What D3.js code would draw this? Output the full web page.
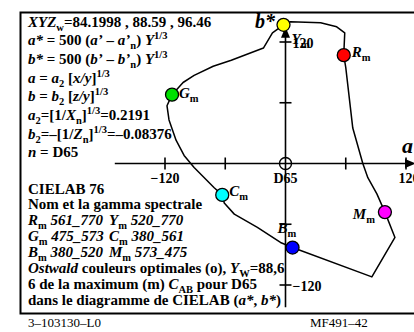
<!DOCTYPE html>
<html>
<head>
<meta charset="utf-8">
<script src="https://cdn.jsdelivr.net/npm/d3@7"></script>
<style>
  body { margin: 0; background: #fff; }
  svg { display: block; }
  text { font-family: "Liberation Serif", "Times New Roman", serif; font-weight: bold; }
  text.plain { font-weight: normal; }
</style>
</head>
<body>
<svg id="chart" width="414" height="332"></svg>
<script>
// *** Data ***

// optimal colour boundary (a*, b*), clockwise from yellow
var boundaryA = [-2, 5, 35, 51, 59, 58, 60, 67, 77, 82, 91, 99, 109, 86, 7, -5, -28, -51, -61, -63, -71, -91, -101, -109, -116, -118, -113, -102, -91, -72, -54, -22, -13, -2];
var boundaryB = [137, 140, 139, 135, 129, 107, 95, 35, 0, -14, -30, -48, -73, -112, -83, -78, -63, -50, -39, -31, -24, -4, 8, 23, 43, 57, 68, 80, 87, 96, 102, 114, 129, 137];

// maximum chroma colours
var pointNames = ["Y", "R", "M", "B", "C", "G"];
var pointA = [-2, 58, 99, 7, -63, -113];
var pointB = [137, 107, -48, -83, -31, 68];

var xTicks = [-120, -60, 0, 60, 120];
var xTickLabels = ["\u2212120", "", "D65", "", "120"];
var yTicks = [-120, -60, 60, 120];
var yTickLabels = ["\u2212120", "", "", "120"];

var spectralNames = ["R", "Y", "G", "C", "B", "M"];
var spectralRanges = ["561_770", "520_770", "475_573", "380_561", "380_520", "573_475"];

// *** Styles ***

var pointFill = {Y: "#ffff00", R: "#ff0000", M: "#ff00ff", B: "#0000ff", C: "#00ffff", G: "#00e000"};
// label offset from the dot centre [dx, dy, anchor]
var labelPlace = {
  Y: [8, 19, "start"], R: [8, 2, "start"], M: [-10, 7, "end"],
  B: [-15, -15, "start"], C: [7, 1, "start"], G: [7, 3, "start"]
};

// *** Helpers ***

// segments: [text, flags] with flags containing i (italic), sub, sup
function rich(textSel, segments, baseSize) {
  var shift = 0;
  segments.forEach(function (s) {
    var flags = s[1] || "";
    var target = 0, size = baseSize;
    if (flags.indexOf("sub") >= 0) { target = 4; size = baseSize * 0.7; }
    if (flags.indexOf("sup") >= 0) { target = -6; size = baseSize * 0.7; }
    var t = textSel.append("tspan")
      .attr("font-size", size)
      .attr("font-style", flags.indexOf("i") >= 0 ? "italic" : "normal")
      .text(s[0]);
    if (target !== shift) t.attr("dy", target - shift);
    shift = target;
  });
}

// *** Chart ***

var svg = d3.select("#chart");

var x = d3.scaleLinear().domain([-120, 120]).range([165, 406]);
var y = d3.scaleLinear().domain([-120, 120]).range([285, 42]);

// frame (right side runs past the picture edge)
svg.append("rect")
  .attr("x", 20.5).attr("y", 12.5).attr("width", 420).attr("height", 301)
  .attr("fill", "none").attr("stroke", "#000").attr("stroke-width", 2);

// axes
var axes = svg.append("g").attr("stroke", "#000").attr("stroke-width", 1.6);
axes.append("line").attr("x1", x(-170)).attr("x2", x(124)).attr("y1", y(0)).attr("y2", y(0));
axes.append("line").attr("x1", x(0)).attr("x2", x(0)).attr("y1", y(-142)).attr("y2", y(130));
svg.append("path")
  .attr("d", "M" + x(130) + "," + y(0) + "l-11,-4.5v9z").attr("fill", "#000");
svg.append("path")
  .attr("d", "M" + x(0) + "," + y(135) + "l-4.5,11h9z").attr("fill", "#000");

axes.selectAll(".xt").data(xTicks.filter(d => d !== 0)).enter().append("line")
  .attr("x1", d => x(d)).attr("x2", d => x(d))
  .attr("y1", y(0) - 6).attr("y2", y(0) + 6);
axes.selectAll(".yt").data(yTicks).enter().append("line")
  .attr("y1", d => y(d)).attr("y2", d => y(d))
  .attr("x1", x(0) - 6).attr("x2", x(0) + 6);

svg.append("circle").attr("cx", x(0)).attr("cy", y(0)).attr("r", 6)
  .attr("fill", "none").attr("stroke", "#000").attr("stroke-width", 1.4);

svg.selectAll(".xl").data(xTicks).enter().append("text")
  .attr("x", d => x(d) + (d === 120 ? 3 : 0)).attr("y", y(0) + 19)
  .attr("text-anchor", "middle").attr("font-size", 14)
  .text((d, i) => xTickLabels[i]);
svg.selectAll(".yl").data(yTicks).enter().append("text")
  .attr("x", x(0) + 7).attr("y", d => y(d) + 6)
  .attr("font-size", 14)
  .text((d, i) => yTickLabels[i]);

// axis names
svg.append("text").attr("x", 402).attr("y", 153).attr("font-size", 22)
  .attr("font-style", "italic").text("a");
svg.append("text").attr("x", 275).attr("y", 28).attr("font-size", 20)
  .attr("text-anchor", "end").attr("font-style", "italic").text("b*");

// boundary of optimal colours
var lineMaker = d3.line()
  .x((d, i) => x(boundaryA[i]))
  .y((d, i) => y(boundaryB[i]));
svg.append("path")
  .attr("d", lineMaker(boundaryA))
  .attr("fill", "none").attr("stroke", "#000").attr("stroke-width", 1.5)
  .attr("stroke-linejoin", "round");

// dots
svg.selectAll(".dot").data(pointNames).enter().append("circle")
  .attr("cx", (d, i) => x(pointA[i])).attr("cy", (d, i) => y(pointB[i]))
  .attr("r", 6.5)
  .attr("fill", d => pointFill[d]).attr("stroke", "#000").attr("stroke-width", 1.3);

pointNames.forEach(function (n, i) {
  var p = labelPlace[n];
  var t = svg.append("text")
    .attr("x", x(pointA[i]) + p[0]).attr("y", y(pointB[i]) + p[1])
    .attr("text-anchor", p[2]);
  rich(t, [[n, "i"], ["m", "sub"]], 15);
});

// *** Text blocks ***

var topLines = [
  [["XYZ", "i"], ["w", "sub"], ["=84.1998 , 88.59 , 96.46"]],
  [["a*", "i"], [" = 500 ("], ["a\u2019", "i"], [" \u2013 "], ["a\u2019", "i"], ["n", "sub"], [") "], ["Y", "i"], ["1/3", "sup"]],
  [["b*", "i"], [" = 500 ("], ["b\u2019", "i"], [" \u2013 "], ["b\u2019", "i"], ["n", "sub"], [") "], ["Y", "i"], ["1/3", "sup"]],
  [["a", "i"], [" = "], ["a", "i"], ["2", "sub"], [" ["], ["x/y", "i"], ["]"], ["1/3", "sup"]],
  [["b", "i"], [" = "], ["b", "i"], ["2", "sub"], [" ["], ["z/y", "i"], ["]"], ["1/3", "sup"]],
  [["a", "i"], ["2", "sub"], ["=[1/"], ["X", "i"], ["n", "sub"], ["]"], ["1/3", "sup"], ["=0.2191"]],
  [["b", "i"], ["2", "sub"], ["=\u2013[1/"], ["Z", "i"], ["n", "sub"], ["]"], ["1/3", "sup"], ["=\u20130.08376"]],
  [["n", "i"], [" = D65"]]
];
topLines.forEach(function (segs, i) {
  rich(svg.append("text").attr("x", 28).attr("y", 26.5 + i * 18.7), segs, 15);
});

var bottomLines = [
  [["CIELAB 76"]],
  [["Nom et la gamma spectrale"]]
];
for (var r = 0; r < 3; r++) {
  bottomLines.push([
    [spectralNames[2 * r], "i"], ["m", "sub"], [" " + spectralRanges[2 * r], "i"]
  ]);
}
bottomLines.push([["Ostwald", "i"], [" couleurs optimales (o), "], ["Y", "i"], ["W", "sub"], ["=88,6"]]);
bottomLines.push([["6 de la maximum (m) "], ["C", "i"], ["AB", "sub"], [" pour D65"]]);
bottomLines.push([["dans le diagramme de CIELAB ("], ["a*", "i"], [", "], ["b*", "i"], [")"]]);

var lineGap = 15.9;
bottomLines.forEach(function (segs, i) {
  rich(svg.append("text").attr("x", 28).attr("y", 193.5 + i * lineGap), segs, 15);
});
// second column of the spectral ranges
for (var r = 0; r < 3; r++) {
  rich(svg.append("text").attr("x", 109).attr("y", 193.5 + (r + 2) * lineGap), [
    [spectralNames[2 * r + 1], "i"], ["m", "sub"], [" " + spectralRanges[2 * r + 1], "i"]
  ], 15);
}

svg.append("text").attr("class", "plain").attr("x", 28).attr("y", 327).attr("font-size", 13)
  .text("3\u2013103130\u2013L0");
svg.append("text").attr("class", "plain").attr("x", 310).attr("y", 327).attr("font-size", 13)
  .text("MF491\u201342");
</script>
</body>
</html>
